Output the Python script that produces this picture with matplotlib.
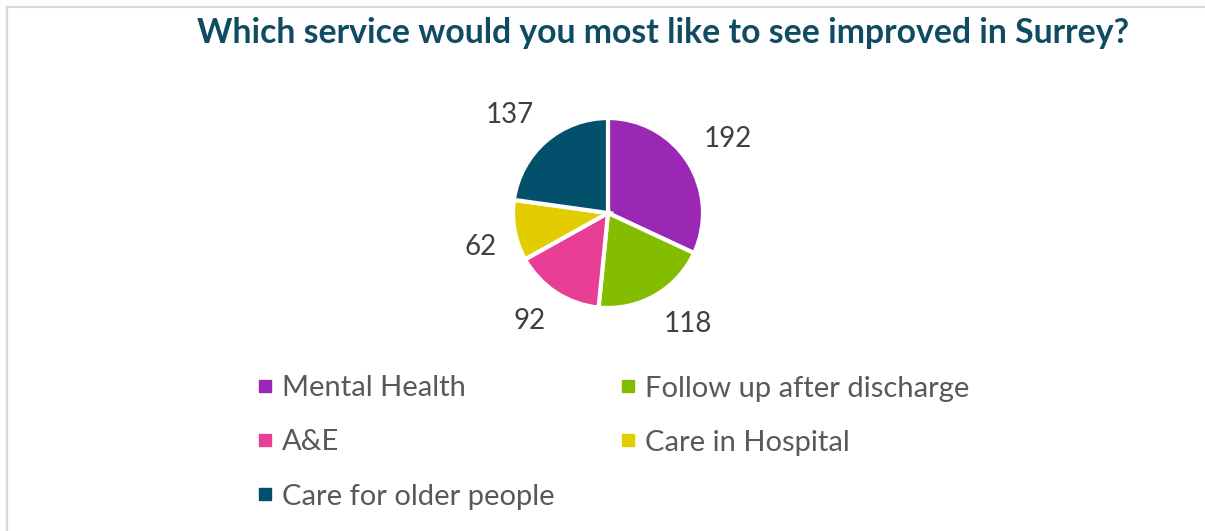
import matplotlib
matplotlib.use("Agg")
import matplotlib.pyplot as plt
from matplotlib.lines import Line2D
import numpy as np

categories = ["Mental Health", "Follow up after discharge", "A&E", "Care in Hospital", "Care for older people"]
values = [192, 118, 92, 62, 137]
colors = ["#9B27B5", "#84BC00", "#E83E96", "#E2CE00", "#02506B"]
title = "Which service would you most like to see improved in Surrey?"

W, H = 1205, 531
fig = plt.figure(figsize=(W / 100, H / 100), dpi=100)
fig.patch.set_facecolor("white")

def fx(px):
    return px / W

def fy(py):
    return 1 - py / H

# chart frame (left and top edges visible)
frame_col = "#D9D9D9"
fig.add_artist(Line2D([fx(7), fx(7)], [fy(7), 0], transform=fig.transFigure,
                      color=frame_col, linewidth=1.6))
fig.add_artist(Line2D([fx(7), 1], [fy(7), fy(7)], transform=fig.transFigure,
                      color=frame_col, linewidth=1.6))

fig.text(fx(663), fy(33), title, ha="center", va="center", fontsize=24.3,
         fontweight="bold", color="#0F4C63", family="Lato")

cx, cy, r = 608, 213, 95
ax = fig.add_axes([fx(cx - r), fy(cy + r), 2 * r / W, 2 * r / H])
wedges, _ = ax.pie(values, colors=colors, startangle=90, counterclock=False,
                   wedgeprops=dict(edgecolor="white", linewidth=3))
ax.set_xlim(-1, 1)
ax.set_ylim(-1, 1)
ax.set_aspect("equal")
ax.axis("off")

# "outside end" data labels
gap = 1.19
for w, v in zip(wedges, values):
    ang = np.deg2rad((w.theta1 + w.theta2) / 2)
    c, s = np.cos(ang), np.sin(ang)
    ax.text(gap * c, gap * s, str(v), ha="left" if c > 0 else "right",
            va="bottom" if s > 0 else "top", fontsize=20, color="#404040",
            family="Lato", clip_on=False)

# legend (row-major, two columns)
sq_x = [265, 628]
row_y0, row_dy = 386, 54
for i, (cat, col) in enumerate(zip(categories, colors)):
    row, cidx = divmod(i, 2)
    y = row_y0 + row * row_dy
    fig.add_artist(Line2D([fx(sq_x[cidx])], [fy(y)], transform=fig.transFigure,
                          marker="s", markersize=9, linestyle="none",
                          markerfacecolor=col, markeredgecolor=col))
    fig.text(fx(sq_x[cidx] + 17), fy(y), cat, ha="left", va="center_baseline",
             fontsize=21, color="#595959", family="Lato")

fig.savefig("out.png", dpi=100, facecolor="white")
